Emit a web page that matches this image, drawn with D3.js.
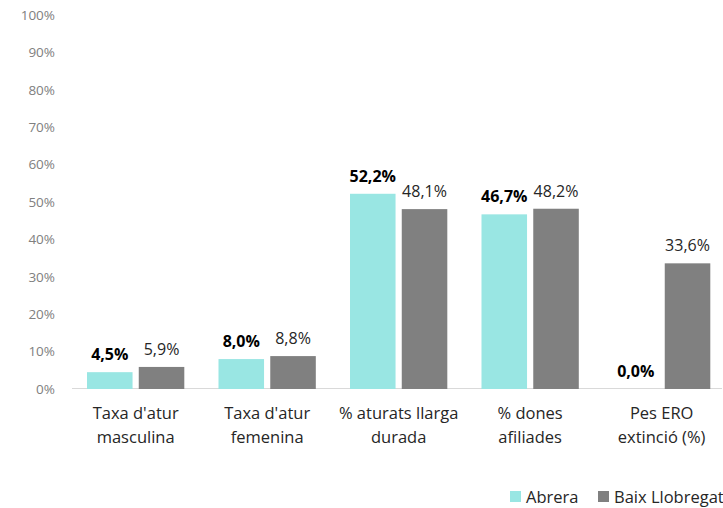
<!DOCTYPE html>
<html>
<head>
<meta charset="utf-8">
<script src="https://cdn.jsdelivr.net/npm/d3@7"></script>
<style>
  body { margin: 0; background: #fff; }
  svg { font-family: 'Open Sans', sans-serif; }
</style>
</head>
<body>
<div id="wrapper"></div>
<script>
const categories = [
    ["Taxa d'atur", 'masculina'],
    ["Taxa d'atur", 'femenina'],
    ['% aturats llarga', 'durada'],
    ['% dones', 'afiliades'],
    ['Pes ERO', 'extinció (%)']
]
const seriesNames = ['Abrera', 'Baix Llobregat']
const abrera = [4.5, 8.0, 52.2, 46.7, 0.0]
const baix = [5.9, 8.8, 48.1, 48.2, 33.6]
const yTicks = [0, 10, 20, 30, 40, 50, 60, 70, 80, 90, 100]

const colors = ['#99e6e3', '#808080']

const width = 723
const height = 508

const wrapper = d3.select('#wrapper')
    .append('svg')
        .attr('width', width)
        .attr('height', height)

const bounds = wrapper.append('g')

const xScale = d3.scaleBand()
    .domain(d3.range(categories.length))
    .range([73.85, 723.45])
    .paddingInner(0.26)
    .paddingOuter(0.1)

const sub = d3.scaleBand()
    .domain([0, 1])
    .range([0, xScale.bandwidth()])
    .paddingInner(0.12)

const yScale = d3.scaleLinear()
    .domain([0, 100])
    .range([389, 15])

// y labels
bounds.selectAll('.ytick')
    .data(yTicks)
    .join('text')
        .attr('x', 55)
        .attr('y', d => yScale(d))
        .attr('dy', '0.35em')
        .attr('text-anchor', 'end')
        .attr('fill', '#808080')
        .style('font-size', '13.5px')
        .text(d => d + '%')

// baseline
bounds.append('line')
    .attr('x1', 72)
    .attr('x2', 722)
    .attr('y1', yScale(0) - 0.5)
    .attr('y2', yScale(0) - 0.5)
    .attr('stroke', '#d9d9d9')
    .attr('stroke-width', 1)

const series = [abrera, baix]

series.forEach((values, s) => {
    bounds.selectAll('.bar' + s)
        .data(values)
        .join('rect')
            .attr('x', (d, i) => xScale(i) + sub(s))
            .attr('y', d => yScale(d))
            .attr('width', sub.bandwidth())
            .attr('height', d => yScale(0) - yScale(d))
            .attr('fill', colors[s])

    bounds.selectAll('.lab' + s)
        .data(values)
        .join('text')
            .attr('x', (d, i) => xScale(i) + sub(s) + sub.bandwidth() / 2)
            .attr('y', d => yScale(d) - 12)
            .attr('text-anchor', 'middle')
            .attr('fill', s === 0 ? '#000' : '#262626')
            .style('font-size', '16px')
            .style('font-weight', s === 0 ? 'bold' : 'normal')
            .text(d => d.toFixed(1).replace('.', ',') + '%')
})

// category labels
const catLabels = bounds.selectAll('.cat')
    .data(categories)
    .join('text')
        .attr('x', (d, i) => xScale(i) + xScale.bandwidth() / 2)
        .attr('y', 419)
        .attr('text-anchor', 'middle')
        .attr('fill', '#262626')
        .style('font-size', '16.5px')

catLabels.selectAll('tspan')
    .data(d => d)
    .join('tspan')
        .attr('x', function () { return d3.select(this.parentNode).attr('x') })
        .attr('dy', (d, i) => i === 0 ? 0 : 24)
        .text(d => d)

// legend
const legendX = [510, 598]
seriesNames.forEach((name, s) => {
    bounds.append('rect')
        .attr('x', legendX[s])
        .attr('y', 491)
        .attr('width', 11)
        .attr('height', 11)
        .attr('fill', colors[s])
    bounds.append('text')
        .attr('x', legendX[s] + 16)
        .attr('y', 503)
        .attr('fill', '#262626')
        .style('font-size', '16.5px')
        .text(name)
})
</script>
</body>
</html>
